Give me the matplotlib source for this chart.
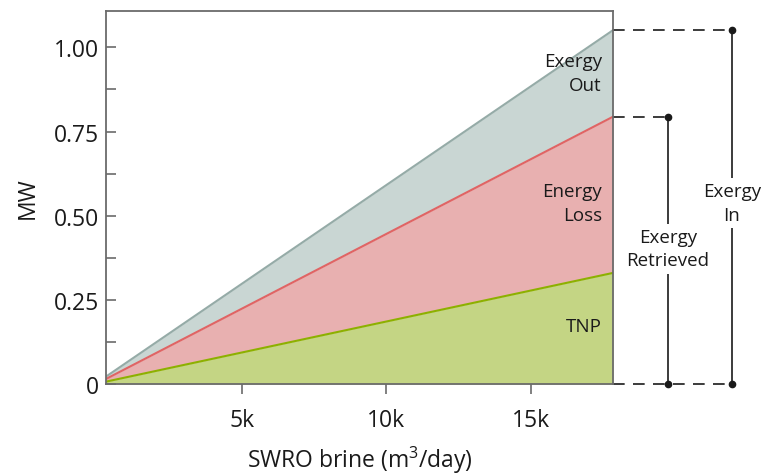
import numpy as np
import matplotlib
matplotlib.use('Agg')
import matplotlib.pyplot as plt
import matplotlib.transforms as mtransforms

plt.rcParams['font.family'] = ['Open Sans', 'DejaVu Sans']
plt.rcParams['mathtext.default'] = 'regular'

# SWRO brine flow (m3/day) and stacked power levels (MW)
brine_flow = [310, 17830]
tnp = [0.007, 0.330]
exergy_retrieved = [0.015, 0.794]
exergy_in = [0.022, 1.051]

x_ticks = [5000, 10000, 15000]
x_ticklabels = ['5k', '10k', '15k']
y_ticks = [0, 0.25, 0.5, 0.75, 1.0]
y_ticklabels = ['0', '0.25', '0.50', '0.75', '1.00']

GREY_FILL, GREY_LINE = '#c9d6d3', '#95aba7'
RED_FILL, RED_LINE = '#e8b0b0', '#e06464'
GREEN_FILL, GREEN_LINE = '#c4d584', '#8db000'
SPINE = '#6b6b6b'
INK = '#1a1a1a'

fig = plt.figure(figsize=(7.62, 4.77), dpi=100)
ax = fig.add_axes([106 / 762, 92 / 477, 507 / 762, 373 / 477])

ax.fill_between(brine_flow, exergy_retrieved, exergy_in, color=GREY_FILL, lw=0)
ax.fill_between(brine_flow, tnp, exergy_retrieved, color=RED_FILL, lw=0)
ax.fill_between(brine_flow, 0, tnp, color=GREEN_FILL, lw=0)
ax.plot(brine_flow, exergy_in, color=GREY_LINE, lw=1.5)
ax.plot(brine_flow, exergy_retrieved, color=RED_LINE, lw=1.5)
ax.plot(brine_flow, tnp, color=GREEN_LINE, lw=1.5)

ax.set_xlim(brine_flow[0], brine_flow[-1])
ax.set_ylim(0, 1.108)

ax.set_xticks(x_ticks)
ax.set_xticklabels(x_ticklabels)
ax.set_yticks(y_ticks)
ax.set_yticklabels(y_ticklabels)
ax.set_yticks(np.arange(0.125, 1.0, 0.25), minor=True)
ax.tick_params(axis='x', direction='out', length=7, width=1.2, color=SPINE,
               labelsize=16.5, labelcolor=INK, pad=10)
ax.tick_params(axis='y', which='both', direction='in', length=7, width=1.2,
               color=SPINE, labelsize=16.5, labelcolor=INK, pad=5)
for sp in ax.spines.values():
    sp.set_color(SPINE)
    sp.set_linewidth(1.3)

ax.set_xlabel('SWRO brine (m$^3$/day)', fontsize=16.5, color=INK, labelpad=9)
ax.set_ylabel('MW', fontsize=16.5, color=INK, labelpad=10)

# labels inside the stacked areas
xr = 0.978
ax.text(xr, 0.924, 'Exergy\nOut', transform=ax.get_yaxis_transform(),
        ha='right', va='center', fontsize=13.5, color=INK, linespacing=1.4)
ax.text(xr, 0.538, 'Energy\nLoss', transform=ax.get_yaxis_transform(),
        ha='right', va='center', fontsize=13.5, color=INK, linespacing=1.4)
ax.text(xr, 0.172, 'TNP', transform=ax.get_yaxis_transform(),
        ha='right', va='center', fontsize=13.5, color=INK)

# brackets to the right of the plot
trans = mtransforms.blended_transform_factory(ax.transAxes, ax.transData)
x_ret, x_in = 1.1085, 1.2347
dash = dict(color=INK, lw=1.2, ls=(0, (7, 5)), transform=trans, clip_on=False)
ax.plot([1, x_in], [exergy_in[-1]] * 2, **dash)
ax.plot([1, x_in], [0, 0], **dash)
ax.plot([1, x_ret], [exergy_retrieved[-1]] * 2, **dash)

solid = dict(color=INK, lw=1.2, marker='o', ms=4.5, transform=trans, clip_on=False)
ax.plot([x_ret, x_ret], [0, exergy_retrieved[-1]], **solid)
ax.plot([x_in, x_in], [0, exergy_in[-1]], **solid)

box = dict(facecolor='white', edgecolor='none', pad=3)
ax.text(x_ret, 0.402, 'Exergy\nRetrieved', transform=trans, ha='center',
        va='center', fontsize=13.5, color=INK, bbox=box, linespacing=1.4)
ax.text(x_in, 0.538, 'Exergy\nIn', transform=trans, ha='center',
        va='center', fontsize=13.5, color=INK, bbox=box, linespacing=1.4)

fig.savefig('out.png', dpi=100)
